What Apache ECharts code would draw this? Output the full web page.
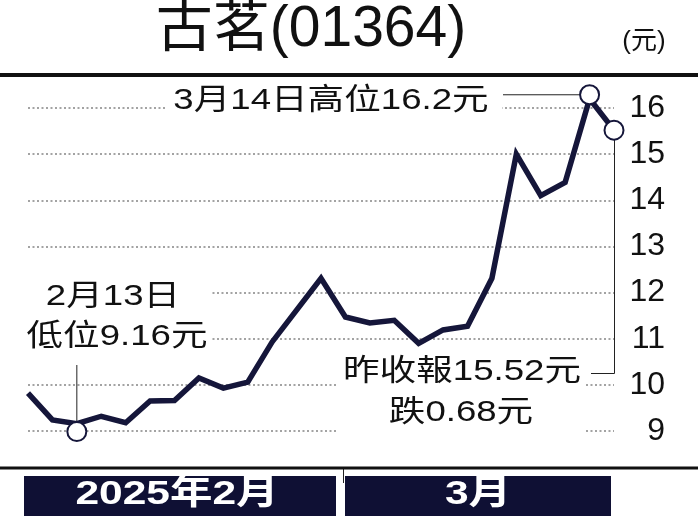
<!DOCTYPE html>
<html>
<head>
<meta charset="UTF-8">
<title>古茗(01364)</title>
<script src="https://cdn.jsdelivr.net/npm/echarts@6/dist/echarts.min.js"></script>
<style>
html, body { margin: 0; padding: 0; background: #fff; }
#chart { width: 698px; height: 516px; }
</style>
</head>
<body>
<div id="chart"></div>
<script>
// 收市價
var dates = ['2/11', '2/12', '2/13', '2/14', '2/17', '2/18', '2/19', '2/20', '2/21',
             '2/24', '2/25', '2/26', '2/27', '2/28', '3/3', '3/4', '3/5', '3/6', '3/7',
             '3/10', '3/11', '3/12', '3/13', '3/14', '3/17'];
var prices = [9.82, 9.24, 9.16, 9.32, 9.18, 9.65, 9.66, 10.15, 9.93,
              10.06, 10.93, 11.62, 12.31, 11.47, 11.34, 11.40, 10.90, 11.19, 11.27,
              12.31, 15.00, 14.10, 14.39, 16.20, 15.52];
var yMin = 9, yMax = 16, yStep = 1;
var months = ['2025年2月', '3月'];

var lowIdx = 2, highIdx = 23, lastIdx = 24;
var lowText = ['2月13日', '低位9.16元'];
var highText = '3月14日高位16.2元';
var lastText = ['昨收報15.52元', '跌0.68元'];

var navy = '#15163a';
var boxNavy = '#0f1034';
var font = "'Liberation Sans', 'Noto Sans CJK TC', sans-serif";

var chart = echarts.init(document.getElementById('chart'));

// 圓圈標記的位置微調
var marks = {};
marks[lowIdx] = [0, 8];
marks[highIdx] = [0, -4];
marks[lastIdx] = [0, 0];

var seriesData = prices.map(function (v, i) {
    if (marks[i]) {
        return { value: v, symbol: 'circle', symbolSize: 19, symbolOffset: marks[i] };
    }
    return { value: v, symbol: 'none' };
});

chart.setOption({
    animation: false,
    grid: { left: 28, right: 84, top: 108, bottom: 85 },
    xAxis: {
        type: 'category',
        data: dates,
        boundaryGap: false,
        axisLine: { show: false },
        axisTick: { show: false },
        axisLabel: { show: false }
    },
    yAxis: {
        type: 'value',
        position: 'right',
        min: yMin,
        max: yMax,
        interval: yStep,
        axisLine: { show: false },
        axisTick: { show: false },
        splitLine: { lineStyle: { color: '#a3a3a3', width: 2, type: [2, 2.5] } },
        axisLabel: {
            color: '#111',
            fontSize: 32,
            fontFamily: font,
            align: 'right',
            margin: 51,
            padding: [0, 0, 10, 0]
        }
    },
    series: [{
        type: 'line',
        data: seriesData,
        clip: false,
        showSymbol: true,
        showAllSymbol: true,
        lineStyle: { color: navy, width: 5.5, join: 'miter' },
        itemStyle: { color: '#fff', borderColor: navy, borderWidth: 2 },
        z: 2
    }]
});

function px(i) {
    return chart.convertToPixel({ xAxisIndex: 0, yAxisIndex: 0 }, [dates[i], prices[i]]);
}

function txt(x, y, s, size, opts) {
    opts = opts || {};
    return {
        type: 'text', x: x, y: y, z: 10,
        scaleX: opts.sx || 1,
        style: {
            text: s, fontSize: size, fontFamily: font,
            fontWeight: opts.bold ? 'bold' : 'normal',
            fill: opts.color || '#111',
            align: opts.align || 'center', verticalAlign: 'middle'
        }
    };
}
function rect(x, y, w, h, color, z) {
    return { type: 'rect', z: z, shape: { x: x, y: y, width: w, height: h }, style: { fill: color } };
}
function line(x1, y1, x2, y2) {
    return { type: 'line', z: 1, shape: { x1: x1, y1: y1, x2: x2, y2: y2 },
             style: { stroke: '#222', lineWidth: 1 } };
}

var pLow = px(lowIdx), pHigh = px(highIdx), pLast = px(lastIdx);
var r = 9.5;
var hy = pHigh[1] + marks[highIdx][1];
var ly = pLow[1] + marks[lowIdx][1];

var g = [
    // 上下橫線
    rect(0, 73, 698, 4, '#111', 10),
    rect(0, 466.5, 698, 3, '#111', 10),
    line(343.5, 468, 343.5, 483),
    // 月份底框
    rect(24, 476, 312, 40, boxNavy, 10),
    rect(345, 476, 266, 40, boxNavy, 10),
    txt(177, 495, months[0], 34, { bold: true, color: '#fff', sx: 1.25 }),
    txt(478, 495, months[1], 34, { bold: true, color: '#fff', sx: 1.25 }),
    // 標題
    txt(311, 30, '古茗(01364)', 57),
    txt(644, 42, '(元)', 26),
    // 白底遮住格線
    rect(165, 90, 337, 24, '#fff', 1),
    rect(25, 280, 185, 75, '#fff', 1),
    rect(338, 355, 248, 85, '#fff', 1),
    // 註解文字
    txt(331, 101, highText, 30, { sx: 1.22 }),
    txt(113, 297, lowText[0], 30, { sx: 1.22 }),
    txt(117, 337, lowText[1], 30, { sx: 1.22 }),
    txt(462, 372, lastText[0], 30, { sx: 1.22 }),
    txt(461, 413, lastText[1], 30, { sx: 1.22 }),
    // 引線
    line(pLow[0], 365, pLow[0], ly - r),
    line(503, hy, pHigh[0] - r, hy),
    line(pLast[0] + 0.5, pLast[1] + r, pLast[0] + 0.5, 373.5),
    line(591, 373.5, pLast[0] + 0.5, 373.5)
];

chart.setOption({ graphic: g });
</script>
</body>
</html>
